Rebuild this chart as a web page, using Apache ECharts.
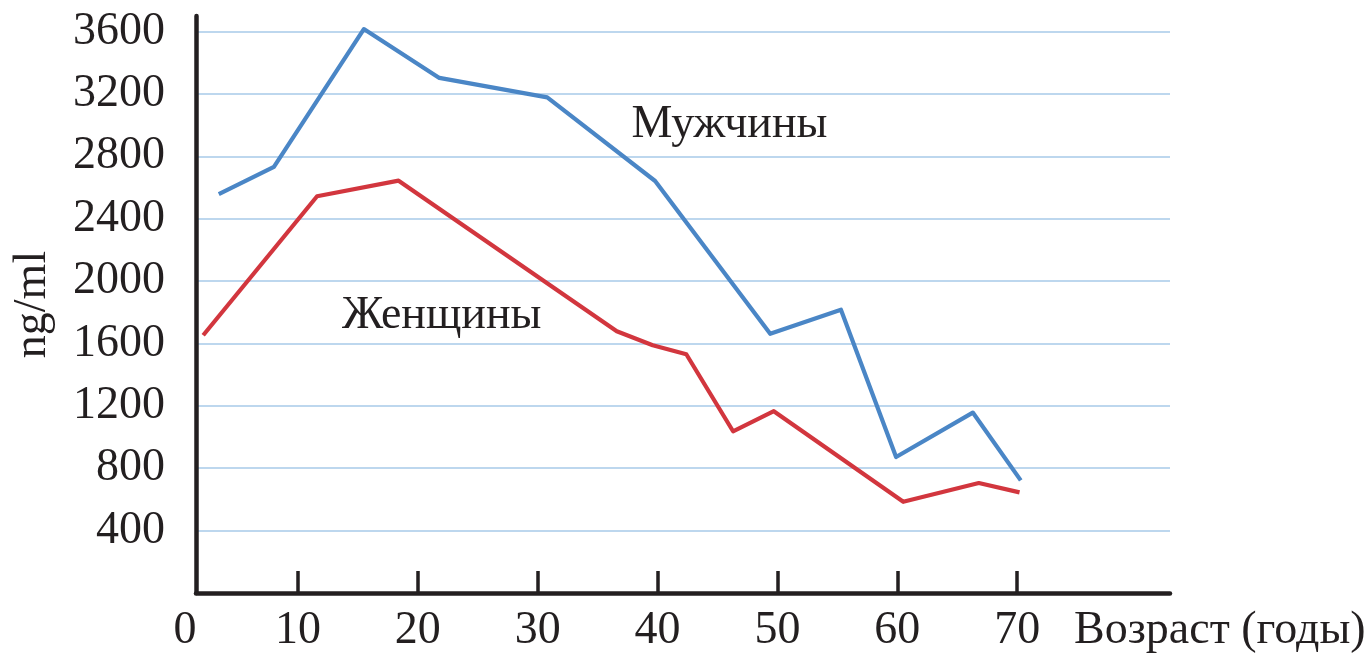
<!DOCTYPE html>
<html>
<head>
<meta charset="utf-8">
<script src="https://cdn.jsdelivr.net/npm/echarts@6/dist/echarts.min.js"></script>
<style>
html,body{margin:0;padding:0;background:#fff;}
#chart{width:1371px;height:655px;}
</style>
</head>
<body>
<div id="chart"></div>
<script>
// Data
const menAge    = [3.4, 8.0, 15.5, 21.8, 30.8, 39.8, 49.4, 55.3, 59.9, 66.3, 70.3];
const menValue  = [2558, 2733, 3616, 3303, 3178, 2642, 1662, 1817, 872, 1157, 722];
const womenAge  = [2.1, 11.6, 18.4, 36.6, 39.6, 42.4, 46.3, 49.7, 60.5, 66.8, 70.2];
const womenValue= [1653, 2544, 2644, 1678, 1589, 1531, 1037, 1166, 585, 705, 645];
const xTicks = [10, 20, 30, 40, 50, 60, 70];
const seriesNames = ['Мужчины', 'Женщины'];
const labelAnchors = [[46, 3000], [22, 1775]]; // data coords of the annotation texts
const xAxisTitle = 'Возраст (годы)';
const yAxisTitle = 'ng/ml';

const FONT = 'Liberation Serif';
const TXT = '#231f20';
const FS = 46;
const LBL_GAP = 15;

const chart = echarts.init(document.getElementById('chart'), null, {renderer: 'canvas'});
const zip = (a, b) => a.map((v, i) => [v, b[i]]);

const option = {
  animation: false,
  backgroundColor: '#ffffff',
  grid: {left: 196, right: 201, top: 16, bottom: 62, containLabel: false},
  xAxis: {
    type: 'value',
    min: 1.5, max: 82.75,
    name: xAxisTitle,
    nameLocation: 'end',
    nameGap: -96,
    nameTextStyle: {fontFamily: FONT, fontSize: FS, color: TXT, align: 'left', verticalAlign: 'top', padding: [LBL_GAP, 0, 0, 0]},
    axisLine: {show: true, onZero: false, lineStyle: {color: TXT, width: 4.5}},
    axisTick: {show: true, inside: true, length: 22, customValues: xTicks, lineStyle: {color: TXT, width: 3.5}},
    axisLabel: {customValues: xTicks, fontFamily: FONT, fontSize: FS, color: TXT, margin: LBL_GAP, formatter: v => String(v)},
    splitLine: {show: false}
  },
  yAxis: {
    type: 'value',
    min: 0, max: 3700, interval: 400,
    name: yAxisTitle,
    nameLocation: 'middle',
    nameGap: 140,
    nameTextStyle: {fontFamily: FONT, fontSize: FS, color: TXT},
    axisLine: {show: true, lineStyle: {color: TXT, width: 4.5}},
    axisTick: {show: false},
    axisLabel: {fontFamily: FONT, fontSize: FS, color: TXT, margin: 31, showMinLabel: false, showMaxLabel: false, formatter: v => String(v)},
    splitLine: {show: true, showMinLine: false, showMaxLine: false, lineStyle: {color: '#bdd7ee', width: 2}}
  },
  series: [
    {name: seriesNames[0], type: 'line', data: zip(menAge, menValue), showSymbol: false, symbol: 'none',
     lineStyle: {color: '#4a86c6', width: 4.2, join: 'round'}, z: 3},
    {name: seriesNames[1], type: 'line', data: zip(womenAge, womenValue), showSymbol: false, symbol: 'none',
     lineStyle: {color: '#d2363e', width: 4.2, join: 'round'}, z: 3}
  ]
};
chart.setOption(option);

const axisY = chart.convertToPixel({yAxisIndex: 0}, 0);
const texts = labelAnchors.map((c, i) => {
  const p = chart.convertToPixel({gridIndex: 0}, c);
  return {type: 'text', x: p[0], y: p[1], z: 10,
    style: {text: seriesNames[i], fontFamily: FONT, fontSize: FS, fill: TXT, align: 'center', verticalAlign: 'middle'}};
});
texts.push({type: 'text', x: 185, y: axisY + LBL_GAP, z: 10,
  style: {text: '0', fontFamily: FONT, fontSize: FS, fill: TXT, align: 'center', verticalAlign: 'top'}});
chart.setOption({graphic: texts});
</script>
</body>
</html>
